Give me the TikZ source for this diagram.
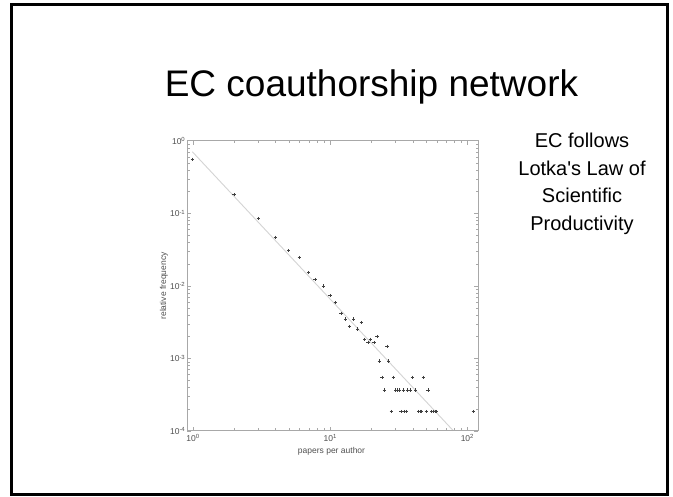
\documentclass[tikz,border=0pt]{standalone}
\usepackage{fontspec}
\setmainfont{Liberation Sans}
\definecolor{axisgray}{HTML}{A8A8A8}
\definecolor{labelgray}{HTML}{505050}
\definecolor{fitgray}{HTML}{D4D4D4}
\definecolor{markgray}{HTML}{404040}
\begin{document}
\begin{tikzpicture}[x=1pt,y=-1pt,
  frame/.style={line width=2.6pt,black},
  axisline/.style={axisgray,line width=1pt},
  ticklab/.style={labelgray,font=\fontsize{8.5}{10}\selectfont,inner sep=0.5pt},
  axislab/.style={labelgray,font=\fontsize{8.5}{10}\selectfont,inner sep=0pt},
  fitline/.style={fitgray,line width=0.9pt},
  titletext/.style={font=\fontsize{37}{44}\selectfont,inner sep=0pt,anchor=base},
  bodytext/.style={font=\fontsize{20}{27.5}\selectfont,align=center,inner sep=0pt,anchor=base}]
\useasboundingbox (0,0) rectangle (673,497);
\fill[white] (0,0) rectangle (673,497);
% slide frame
\draw[frame] (11.5,4.3) rectangle (667.5,494.7);
% title
\node[titletext] (title) at (371.5,97) {EC coauthorship network};
% side note
\node[bodytext] (note1) at (582,148) {EC follows};
\node[bodytext] (note2) at (582,175.5) {Lotka\textquotesingle s Law of};
\node[bodytext] (note3) at (582,203) {Scientific};
\node[bodytext] (note4) at (582,230.5) {Productivity};
% plot geometry: decade widths in x and y
\def\xo{193}\def\xd{137.2}\def\yo{141}\def\yd{72.5}
\def\xl{187}\def\xr{478}\def\yt{141}\def\yb{431}
% fit line (drawn first, under the box)
\coordinate (fitA) at (192.3,151.7);
\coordinate (fitB) at (453.3,430.7);
\draw[fitline] (fitA) -- (fitB);
% axis box
\draw[axisline] (\xl,\yt) rectangle (\xr,\yb);
% x ticks (bottom and top)
\foreach \d in {0,1}{
  \foreach \k in {1,...,9}{
    \pgfmathsetmacro\tx{\xo+\xd*(\d+log10(\k))}
    \pgfmathsetmacro\tl{\k==1 ? 4 : 2.5}
    \draw[axisgray,line width=0.6pt] (\tx,\yb) -- ++(0,-\tl);
    \draw[axisgray,line width=0.6pt] (\tx,\yt) -- ++(0,\tl);
  }
}
\draw[axisgray,line width=0.6pt] (\xo+2*\xd,\yb) -- ++(0,-4);
\draw[axisgray,line width=0.6pt] (\xo+2*\xd,\yt) -- ++(0,4);
% y ticks (left and right)
\foreach \d in {0,1,2,3}{
  \foreach \k in {1,...,9}{
    \pgfmathsetmacro\ty{\yo+\yd*(\d+1-log10(\k))}
    \pgfmathsetmacro\tl{\k==1 ? 4 : 2.5}
    \draw[axisgray,line width=0.6pt] (\xl,\ty) -- ++(\tl,0);
    \draw[axisgray,line width=0.6pt] (\xr,\ty) -- ++(-\tl,0);
  }
}
% tick labels
\node[ticklab,anchor=east] (ylab0) at (\xl-1,\yo) {10\textsuperscript{0}};
\node[ticklab,anchor=east] (ylab1) at (\xl-1,\yo+\yd) {10\textsuperscript{-1}};
\node[ticklab,anchor=east] (ylab2) at (\xl-1,\yo+2*\yd) {10\textsuperscript{-2}};
\node[ticklab,anchor=east] (ylab3) at (\xl-1,\yo+3*\yd) {10\textsuperscript{-3}};
\node[ticklab,anchor=east] (ylab4) at (\xl-1,\yo+4*\yd) {10\textsuperscript{-4}};
\node[ticklab,anchor=north] (xlab0) at (\xo,\yb+3) {10\textsuperscript{0}};
\node[ticklab,anchor=north] (xlab1) at (\xo+\xd,\yb+3) {10\textsuperscript{1}};
\node[ticklab,anchor=north] (xlab2) at (\xo+2*\xd,\yb+3) {10\textsuperscript{2}};
% axis titles
\node[axislab] (xtitle) at (331.5,451) {papers per author};
\node[axislab,rotate=90] (ytitle) at (164,286) {relative frequency};
% data
\draw[markgray] plot[only marks,mark=+,mark size=1.7pt,mark options={line width=0.6pt}] coordinates {
  (192.3,159.3) (234,194.7) (258.3,218.7) (275.3,237.3) (288.7,250.7)
  (299.3,257.7) (308.7,272.7) (315,279.5) (323.3,286) (330,295.7)
  (335.5,302.7) (341,313.3) (345.5,319) (349.5,326.7) (353.7,319)
  (357.7,329) (361.3,322.7) (364.7,339.3) (368,342.7) (370.7,339.3)
  (374,342.7) (377,336.7) (379.3,361) (382,377.3) (384.3,390)
  (387,346.3) (388.7,361) (391.3,411.7) (393.3,377.3)
  (395.7,390) (397.7,390) (399.3,390) (401,411.7) (403.3,390)
  (404.7,411.7) (406.3,411.7) (407.3,390) (410.3,390) (412.3,377.3)
  (415.7,390) (418.7,411.7) (420,411.7) (421,411.7) (423.3,377.3)
  (426.3,411.7) (428,390) (431.7,411.7) (433.3,411.7) (435,411.7)
  (436.7,411.7) (473.3,411.7)
};
\end{tikzpicture}
\end{document}
